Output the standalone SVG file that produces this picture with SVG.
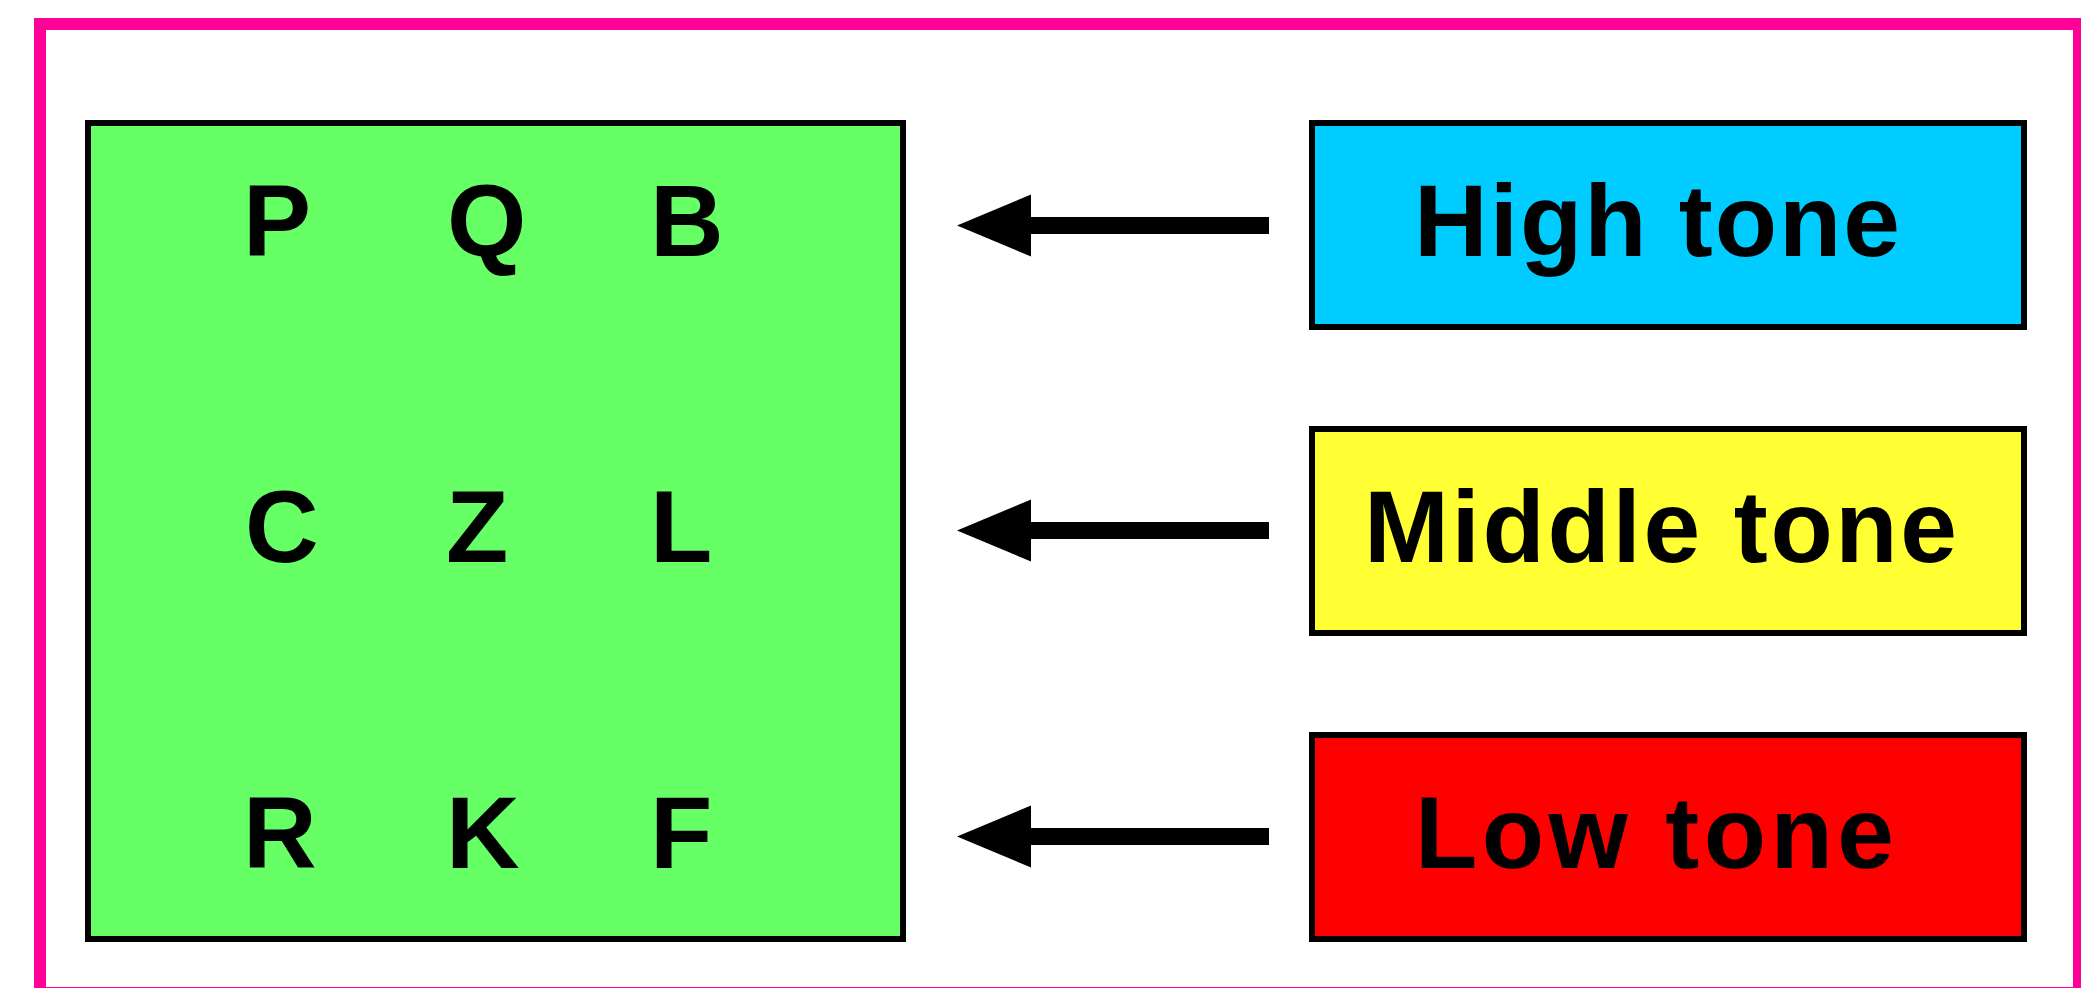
<svg xmlns="http://www.w3.org/2000/svg" width="2081" height="988" viewBox="0 0 2081 988">
  <style>
    .box { stroke: #000000; stroke-width: 6; }
    .glyph { font-family: "Liberation Sans", Arial, sans-serif; font-weight: bold; font-size: 102px; fill: #000000; }
    .link { stroke: #000000; stroke-width: 17; fill: none; marker-end: url(#head); }
  </style>
  <defs>
    <marker id="head" markerUnits="userSpaceOnUse" markerWidth="74" markerHeight="62" refX="2" refY="31" orient="auto" overflow="visible">
      <path d="M0,0 L74,31 L0,62 Z" fill="#000000"/>
    </marker>
  </defs>

  <rect width="2081" height="988" fill="#ffffff"/>
  <!-- outer frame -->
  <rect x="40" y="24" width="2039" height="969" fill="none" stroke="#ff0099" stroke-width="12"/>

  <!-- letter grid -->
  <g id="letters">
    <rect class="box" x="88" y="123" width="815" height="816" fill="#66ff66"/>
    <text class="glyph" x="243" y="256">P</text>
    <text class="glyph" x="447" y="256">Q</text>
    <text class="glyph" x="650" y="256">B</text>
    <text class="glyph" x="245" y="562">C</text>
    <text class="glyph" x="446" y="562">Z</text>
    <text class="glyph" x="650" y="562">L</text>
    <text class="glyph" x="243" y="868">R</text>
    <text class="glyph" x="446" y="868">K</text>
    <text class="glyph" x="650" y="868">F</text>
  </g>

  <g id="high-tone">
    <rect class="box" x="1312" y="123" width="712" height="204" fill="#00ccff"/>
    <text class="glyph" x="1414" y="256" textLength="486" lengthAdjust="spacing">High tone</text>
  </g>

  <g id="middle-tone">
    <rect class="box" x="1312" y="429" width="712" height="204" fill="#ffff33"/>
    <text class="glyph" x="1364" y="562" textLength="593" lengthAdjust="spacing">Middle tone</text>
  </g>

  <g id="low-tone">
    <rect class="box" x="1312" y="735" width="712" height="204" fill="#ff0000"/>
    <text class="glyph" x="1415" y="868" textLength="479" lengthAdjust="spacing">Low tone</text>
  </g>

  <g id="connectors">
    <line class="link" x1="1269" y1="225.5" x2="1029" y2="225.5"/>
    <line class="link" x1="1269" y1="530.5" x2="1029" y2="530.5"/>
    <line class="link" x1="1269" y1="836.5" x2="1029" y2="836.5"/>
  </g>
</svg>
